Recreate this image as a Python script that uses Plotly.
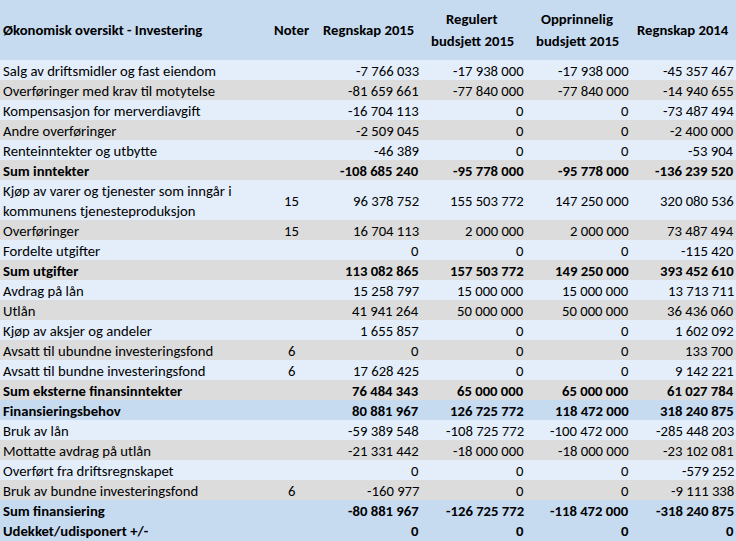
import plotly.graph_objects as go

title = "Økonomisk oversikt - Investering"
col_headers = ["Noter", "Regnskap 2015", "Regulert<br>budsjett 2015", "Opprinnelig<br>budsjett 2015", "Regnskap 2014"]

labels = [
    "Salg av driftsmidler og fast eiendom",
    "Overføringer med krav til motytelse",
    "Kompensasjon for merverdiavgift",
    "Andre overføringer",
    "Renteinntekter og utbytte",
    "Sum inntekter",
    "Kjøp av varer og tjenester som inngår i<br>kommunens tjenesteproduksjon",
    "Overføringer",
    "Fordelte utgifter",
    "Sum utgifter",
    "Avdrag på lån",
    "Utlån",
    "Kjøp av aksjer og andeler",
    "Avsatt til ubundne investeringsfond",
    "Avsatt til bundne investeringsfond",
    "Sum eksterne finansinntekter",
    "Finansieringsbehov",
    "Bruk av lån",
    "Mottatte avdrag på utlån",
    "Overført fra driftsregnskapet",
    "Bruk av bundne investeringsfond",
    "Sum finansiering",
    "Udekket/udisponert +/-",
]

notes = ["", "", "", "", "", "", "15", "15", "", "", "", "", "", "6", "6", "", "", "", "", "", "6", "", ""]

regnskap_2015 = [-7766033, -81659661, -16704113, -2509045, -46389, -108685240,
                 96378752, 16704113, 0, 113082865, 15258797, 41941264, 1655857, 0,
                 17628425, 76484343, 80881967, -59389548, -21331442, 0, -160977,
                 -80881967, 0]
regulert_2015 = [-17938000, -77840000, 0, 0, 0, -95778000,
                 155503772, 2000000, 0, 157503772, 15000000, 50000000, 0, 0,
                 0, 65000000, 126725772, -108725772, -18000000, 0, 0,
                 -126725772, 0]
opprinnelig_2015 = [-17938000, -77840000, 0, 0, 0, -95778000,
                    147250000, 2000000, 0, 149250000, 15000000, 50000000, 0, 0,
                    0, 65000000, 118472000, -100472000, -18000000, 0, 0,
                    -118472000, 0]
regnskap_2014 = [-45357467, -14940655, -73487494, -2400000, -53904, -136239520,
                 320080536, 73487494, -115420, 393452610, 13713711, 36436060, 1602092, 133700,
                 9142221, 61027784, 318240875, -285448203, -23102081, -579252, -9111338,
                 -318240875, 0]

bold_rows = {"Sum inntekter", "Sum utgifter", "Sum eksterne finansinntekter",
             "Finansieringsbehov", "Sum finansiering", "Udekket/udisponert +/-"}
header_rows = {"Finansieringsbehov", "Sum finansiering", "Udekket/udisponert +/-"}

HEAD = "#C6DAF0"
LIGHT = "#E3EEFA"
GREY = "#DCDCDC"

W, H = 736, 541
HEADER_H = 60
LINE_H = 20
FONT = "Carlito, Calibri, Lato, sans-serif"
FS = 14.7

label_x = 2
note_x = 291
value_right = [419.5, 524.5, 629.5, 734.5]
header_centers = [291, 368, 472, 577, 683]


def fmt(v):
    s = f"{abs(v):,}".replace(",", " ")
    return ("-" if v < 0 else "") + s


def b(text, bold):
    return f"<b>{text}</b>" if bold and text else text


fig = go.Figure()
annotations = []
shapes = []


def add_text(x, y, text, anchor):
    annotations.append(dict(
        x=x, y=y, xref="x", yref="y", text=text, showarrow=False,
        xanchor=anchor, yanchor="middle", borderpad=0,
        font=dict(family=FONT, size=FS, color="black"),
    ))


def add_multiline(x, top, text, anchor, height):
    lines = text.split("<br>")
    n = len(lines)
    spacing = 22
    start = top + height / 2 - spacing * (n - 1) / 2
    for i, ln in enumerate(lines):
        add_text(x, start + i * spacing, ln, anchor)


# header
shapes.append(dict(type="rect", xref="x", yref="y", x0=0, x1=W, y0=0, y1=HEADER_H,
                   fillcolor=HEAD, line=dict(width=0), layer="below"))
add_multiline(label_x, 0, f"<b>{title}</b>", "left", HEADER_H)
for cx, h in zip(header_centers, col_headers):
    add_multiline(cx, 0, "<br>".join(f"<b>{p}</b>" for p in h.split("<br>")), "center", HEADER_H)

# body
top = HEADER_H
alt = 0
for i, lab in enumerate(labels):
    n_lines = lab.count("<br>") + 1
    h = LINE_H * n_lines
    if i == len(labels) - 1:
        h = H - top
    if lab in header_rows:
        color = HEAD
        alt = 0
    else:
        color = LIGHT if alt % 2 == 0 else GREY
        alt += 1
    shapes.append(dict(type="rect", xref="x", yref="y", x0=0, x1=W, y0=top, y1=top + h,
                       fillcolor=color, line=dict(width=0), layer="below"))
    bold = lab in bold_rows
    for j, ln in enumerate(lab.split("<br>")):
        add_text(label_x, top + LINE_H * j + LINE_H / 2 + 0.5, b(ln, bold), "left")
    mid = top + h / 2 + 0.5
    if notes[i]:
        add_text(note_x, mid, b(notes[i], bold), "center")
    for xr, series in zip(value_right, (regnskap_2015, regulert_2015, opprinnelig_2015, regnskap_2014)):
        add_text(xr, mid, b(fmt(series[i]), bold), "right")
    top += h

fig.add_trace(go.Scatter(x=[0, W], y=[0, H], mode="markers", marker=dict(opacity=0),
                         hoverinfo="skip", showlegend=False))

fig.update_layout(
    width=W, height=H,
    margin=dict(l=0, r=0, t=0, b=0),
    paper_bgcolor=LIGHT, plot_bgcolor=LIGHT,
    xaxis=dict(range=[0, W], visible=False, fixedrange=True),
    yaxis=dict(range=[H, 0], visible=False, fixedrange=True),
    annotations=annotations, shapes=shapes,
    showlegend=False,
)

fig.write_html("out.html", config={"displayModeBar": False},
               post_script="document.body.style.margin='0';document.body.style.overflow='hidden';")
